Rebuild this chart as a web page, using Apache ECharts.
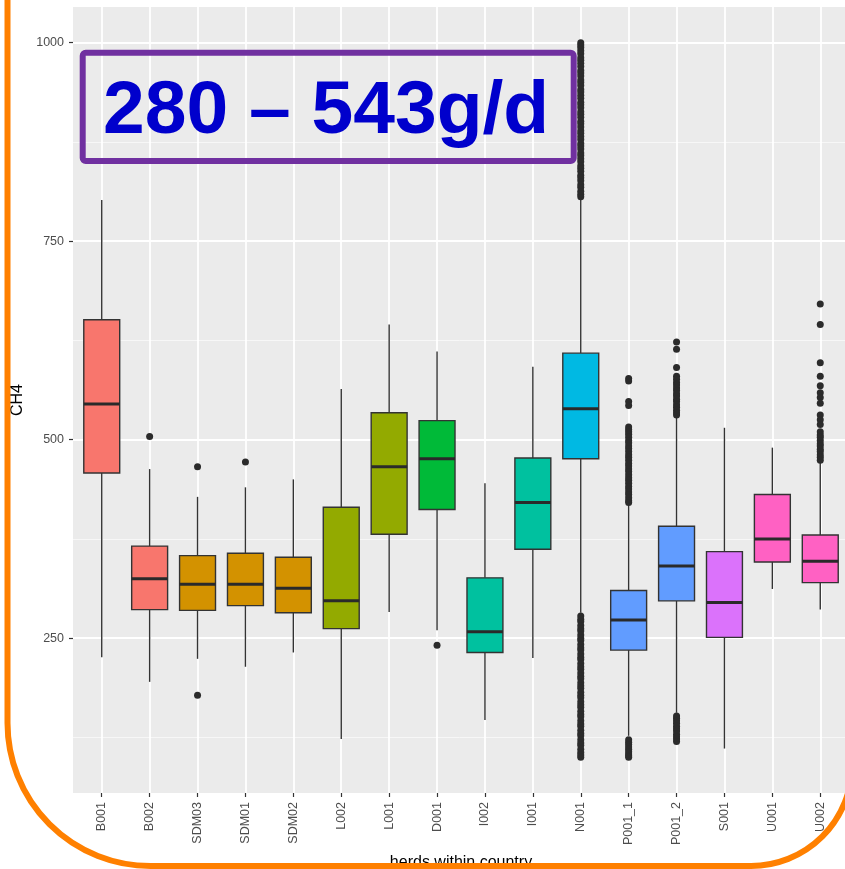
<!DOCTYPE html>
<html><head><meta charset="utf-8">
<script src="https://cdn.jsdelivr.net/npm/echarts@6/dist/echarts.min.js"></script>
<style>html,body{margin:0;padding:0;background:#fff}#chart{width:845px;height:869px}</style>
</head><body><div id="chart"></div>
<script>
// ---- data ----
const categories = ['B001','B002','SDM03','SDM01','SDM02','L002','L001','D001','I002','I001','N001','P001_1','P001_2','S001','U001','U002'];
const countryIndex = [0,0,1,1,1,2,2,3,4,4,5,6,6,7,8,8];
const palette = ['#F8766D','#D39200','#93AA00','#00BA38','#00C19F','#00B9E3','#619CFF','#DB72FB','#FF61C3'];
// [lower whisker, Q1, median, Q3, upper whisker]
const boxStats = [
  [226,458,545,651,802],
  [195,286,325,366,463],
  [224,285,318,354,428],
  [214,291,318,357,440],
  [232,282,313,352,450],
  [123,262,297,415,564],
  [283,381,466,534,645],
  [260,412,476,524,611],
  [147,232,258,326,445],
  [225,362,421,477,592],
  [282,476,539,609,804],
  [127,235,273,310,419],
  [156,297,341,391,530],
  [111,251,295,359,515],
  [312,346,375,431,490],
  [286,320,347,380,471]
];
const outB002 = [504];
const outSDM03 = [466,178];
const outSDM01 = [472];
const outD001 = [241];
const outN001 = [806,809,813,818,821,826,830,833,838,842,845,850,854,858,861,866,870,873,878,882,886,889,894,898,901,906,910,913,918,922,925,930,934,938,941,946,950,953,958,962,965,970,974,978,981,986,990,994,997,1000,
  278,274,271,266,262,259,254,250,247,242,238,235,230,226,223,218,214,211,206,202,199,194,190,187,182,178,175,170,166,163,158,154,151,146,142,139,134,130,127,122,118,115,110,106,103,100];
const outP001_1 = [577,574,548,543,516,513,510,507,503,499,496,492,489,485,481,478,474,470,467,463,460,456,452,449,445,441,438,434,431,427,423,421,
  122,119,116,113,110,107,104,102,100];
const outP001_2 = [623,614,591,580,576,572,569,565,562,558,555,551,548,544,541,537,534,531,
  152,149,146,143,139,136,133,129,126,123,120];
const outU002 = [671,645,597,580,568,559,553,546,531,525,519,510,506,503,499,495,492,488,485,481,478,474];
const outlierLists = [[], outB002, outSDM03, outSDM01, [], [], [], outD001, [], [], outN001, outP001_1, outP001_2, [], [], outU002];
const yTicks = [250,500,750,1000];
const yMinorTicks = [125,375,625,875];
const xTicks = categories.map((c,i)=>i);

// ---- build series data ----
const boxData = categories.map((c,i)=>[i].concat(boxStats[i]).concat([countryIndex[i]]));
const outlierData = [];
outlierLists.forEach((arr,i)=>arr.forEach(v=>outlierData.push([i,v])));

const chart = echarts.init(document.getElementById('chart'));
const FONT = '"Liberation Sans", Arial, Helvetica, sans-serif';
chart.setOption({
  animation:false,
  backgroundColor:'#ffffff',
  textStyle:{fontFamily:FONT},
  grid:{left:73, top:7, width:776, height:786, show:true, backgroundColor:'#EBEBEB', borderWidth:0, containLabel:false, outerBoundsMode:'none'},
  xAxis:{
    type:'value', min:-0.6, max:15.6,
    axisLine:{show:false, onZero:false},
    axisTick:{show:true, customValues:xTicks, length:4, lineStyle:{color:'#333333', width:1.2}},
    axisLabel:{customValues:xTicks, formatter:(v)=>categories[Math.round(v)], rotate:90, margin:9, fontSize:12.5, color:'#4D4D4D', fontFamily:FONT},
    splitLine:{show:true, lineStyle:{color:'#ffffff', width:1.8}},
    name:'herds within country', nameLocation:'middle', nameGap:62,
    nameTextStyle:{fontSize:16, color:'#000000', fontFamily:FONT}
  },
  yAxis:[{
    type:'value', min:55, max:1045,
    axisLine:{show:false, onZero:false},
    axisTick:{show:true, customValues:yTicks, length:4, lineStyle:{color:'#333333', width:1.2}},
    axisLabel:{customValues:yTicks, formatter:(v)=>String(v), margin:9, fontSize:12.5, color:'#4D4D4D', fontFamily:FONT},
    splitLine:{show:true, lineStyle:{color:'#ffffff', width:1.8}},
    name:'CH4', nameLocation:'middle', nameGap:47,
    nameTextStyle:{fontSize:16, color:'#000000', fontFamily:FONT}
  },{
    type:'value', min:55, max:1045, position:'left',
    axisLine:{show:false, onZero:false},
    axisTick:{show:false, customValues:yMinorTicks},
    axisLabel:{show:false, customValues:yMinorTicks},
    splitLine:{show:true, lineStyle:{color:'#F7F7F7', width:1}}
  }],
  series:[{
    type:'custom', xAxisIndex:0, yAxisIndex:0, z:3,
    encode:{x:0, y:[1,2,3,4,5]},
    data:boxData,
    renderItem:function(params, api){
      const x = api.value(0);
      const lo = api.coord([x, api.value(1)]);
      const q1 = api.coord([x, api.value(2)]);
      const med = api.coord([x, api.value(3)]);
      const q3 = api.coord([x, api.value(4)]);
      const hi = api.coord([x, api.value(5)]);
      const w = api.size([0.75, 0])[0];
      const color = palette[api.value(6)];
      const ls = {stroke:'#333333', lineWidth:1.4};
      return {type:'group', children:[
        {type:'line', shape:{x1:hi[0], y1:hi[1], x2:q3[0], y2:q3[1]}, style:ls},
        {type:'line', shape:{x1:q1[0], y1:q1[1], x2:lo[0], y2:lo[1]}, style:ls},
        {type:'rect', shape:{x:q3[0]-w/2, y:q3[1], width:w, height:q1[1]-q3[1]}, style:{fill:color, stroke:'#333333', lineWidth:1.4}},
        {type:'line', shape:{x1:med[0]-w/2, y1:med[1], x2:med[0]+w/2, y2:med[1]}, style:{stroke:'#2a2a2a', lineWidth:3}}
      ]};
    }
  },{
    type:'scatter', xAxisIndex:0, yAxisIndex:0, z:4,
    symbol:'circle', symbolSize:7,
    itemStyle:{color:'#2b2b2b', opacity:1},
    data:outlierData
  }],
  graphic:[
    {type:'rect', z:100, silent:true,
      shape:{x:7.5, y:-300, width:844.5, height:1166, r:[0,0,101,143]},
      style:{fill:'transparent', stroke:'#FF8000', lineWidth:6}},
    {type:'rect', z:100, silent:true,
      shape:{x:82.7, y:52.7, width:491, height:108.3, r:3},
      style:{fill:'transparent', stroke:'#7030A0', lineWidth:6}},
    {type:'text', z:101, silent:true, x:103, y:112,
      style:{text:'280 – 543g/d', font:'bold 75px "Liberation Sans", Arial, sans-serif', fill:'#0000CC', verticalAlign:'middle', align:'left'}}
  ]
});
</script></body></html>
